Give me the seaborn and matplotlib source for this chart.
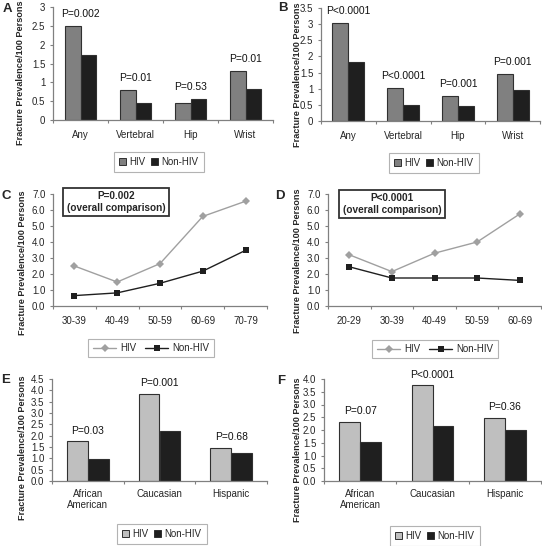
import numpy as np
import pandas as pd
import matplotlib
matplotlib.use("Agg")
import matplotlib.pyplot as plt
from matplotlib.patches import Patch
from matplotlib.lines import Line2D
from matplotlib.ticker import FuncFormatter, FixedLocator
import seaborn as sns

sns.set_theme(style="white")
plt.rcParams['font.family'] = ['Liberation Sans', 'DejaVu Sans']

# ---------------- data ----------------
sites = ["Any", "Vertebral", "Hip", "Wrist"]
a_hiv = [2.50, 0.80, 0.46, 1.30]
a_non = [1.72, 0.44, 0.55, 0.83]
a_p = ["P=0.002", "P=0.01", "P=0.53", "P=0.01"]

b_hiv = [3.05, 1.02, 0.78, 1.46]
b_non = [1.83, 0.50, 0.46, 0.97]
b_p = ["P<0.0001", "P<0.0001", "P=0.001", "P=0.001"]

c_ages = ["30-39", "40-49", "50-59", "60-69", "70-79"]
c_hiv = [2.50, 1.50, 2.65, 5.60, 6.55]
c_non = [0.65, 0.82, 1.42, 2.18, 3.48]
c_box = "P=0.002\n(overall comparison)"

d_ages = ["20-29", "30-39", "40-49", "50-59", "60-69"]
d_hiv = [3.20, 2.15, 3.30, 4.00, 5.75]
d_non = [2.45, 1.75, 1.75, 1.75, 1.60]
d_box = "P<0.0001\n(overall comparison)"

races = ["African\nAmerican", "Caucasian", "Hispanic"]
e_hiv = [1.75, 3.85, 1.45]
e_non = [0.97, 2.22, 1.25]
e_p = ["P=0.03", "P=0.001", "P=0.68"]

f_hiv = [2.33, 3.75, 2.47]
f_non = [1.53, 2.15, 2.00]
f_p = ["P=0.07", "P<0.0001", "P=0.36"]

groups = ["HIV", "Non-HIV"]
ylabel = "Fracture Prevalence/100 Persons"

W, H = 542, 546
fig = plt.figure(figsize=(W / 100, H / 100), dpi=100)

def add_ax(l, r, t, b):
    return fig.add_axes([l / W, 1 - b / H, (r - l) / W, (b - t) / H])

AX_COL = "#808080"
FS = 7.0

def style_axes(ax, ymax, step, fmt, xpad):
    ax.set_ylim(0, ymax)
    ax.set_yticks(np.arange(0, ymax + 1e-9, step))
    ax.yaxis.set_major_formatter(FuncFormatter(lambda v, p: fmt % v))
    for s in ["top", "right"]:
        ax.spines[s].set_visible(False)
    for s in ["left", "bottom"]:
        ax.spines[s].set_color(AX_COL)
        ax.spines[s].set_linewidth(0.9)
    ax.tick_params(axis="y", which="major", direction="out", length=2.5,
                   width=0.8, color=AX_COL, pad=3, labelsize=FS, left=True)
    ax.tick_params(axis="x", which="major", length=0, pad=xpad, labelsize=FS)
    n = len(ax.get_xticks())
    ax.xaxis.set_minor_locator(FixedLocator(np.arange(-0.5, n, 1.0)))
    ax.tick_params(axis="x", which="minor", direction="out", length=2.5,
                   width=0.8, color=AX_COL, bottom=True)
    ax.set_xlim(-0.5, n - 0.5)
    ax.set_xlabel("")
    ax.set_ylabel("")
    ax.grid(False)

def bar_panel(ax, cats, hiv, non, pvals, ymax, step, fmt, hiv_col, xpad):
    df = pd.DataFrame({
        "cat": cats * 2,
        "group": [groups[0]] * len(cats) + [groups[1]] * len(cats),
        "value": hiv + non,
    })
    sns.barplot(data=df, x="cat", y="value", hue="group", order=cats,
                hue_order=groups, palette={"HIV": hiv_col, "Non-HIV": "#1f1f1f"},
                width=0.58, edgecolor="#303030", linewidth=0.8, legend=False,
                ax=ax, saturation=1)
    style_axes(ax, ymax, step, fmt, xpad)
    for i, (h, n_, p) in enumerate(zip(hiv, non, pvals)):
        ax.text(i, max(h, n_) + 0.105 * ymax, p, ha="center", va="center",
                fontsize=7.4, color="#111111")

def bar_legend(cx, cy, hiv_col):
    handles = [Patch(facecolor=hiv_col, edgecolor="#303030", linewidth=0.7),
               Patch(facecolor="#1f1f1f", edgecolor="#303030", linewidth=0.7)]
    leg = fig.legend(handles, groups, loc="center",
                     bbox_to_anchor=(cx / W, 1 - cy / H), ncol=2, fontsize=FS,
                     frameon=True, fancybox=False, handlelength=0.7,
                     handleheight=0.7, handletextpad=0.35, columnspacing=0.6,
                     borderpad=0.5, borderaxespad=0)
    leg.get_frame().set_edgecolor("#a0a0a0")
    leg.get_frame().set_linewidth(0.8)

def line_panel(ax, cats, hiv, non, boxtext, box_xy):
    df = pd.DataFrame({
        "age": cats * 2,
        "group": [groups[0]] * len(cats) + [groups[1]] * len(cats),
        "value": hiv + non,
    })
    sns.lineplot(data=df, x="age", y="value", hue="group", style="group",
                 hue_order=groups, style_order=groups,
                 palette={"HIV": "#a0a0a0", "Non-HIV": "#1f1f1f"},
                 markers={"HIV": "D", "Non-HIV": "s"}, dashes=False,
                 sort=False, legend=False, ax=ax, linewidth=1.0,
                 markersize=4.2, markeredgewidth=0)
    ax.set_xticks(range(len(cats)))
    ax.set_xticklabels(cats)
    style_axes(ax, 7.0, 1.0, "%.1f", 7)
    fig.text(box_xy[0] / W, 1 - box_xy[1] / H, boxtext, ha="center",
             va="center", fontsize=7.2, fontweight="bold", linespacing=1.2,
             bbox=dict(boxstyle="square,pad=0.35", facecolor="white",
                       edgecolor="#333333", linewidth=1.3))

def line_legend(cx, cy):
    handles = [Line2D([], [], color="#a0a0a0", marker="D", markersize=4,
                      markeredgewidth=0, linewidth=1.0),
               Line2D([], [], color="#1f1f1f", marker="s", markersize=4,
                      markeredgewidth=0, linewidth=1.0)]
    leg = fig.legend(handles, groups, loc="center",
                     bbox_to_anchor=(cx / W, 1 - cy / H), ncol=2, fontsize=FS,
                     frameon=True, fancybox=False, handlelength=2.4,
                     handletextpad=0.4, columnspacing=0.9,
                     borderpad=0.45, borderaxespad=0)
    leg.get_frame().set_edgecolor("#a0a0a0")
    leg.get_frame().set_linewidth(0.8)

# Panel A
axA = add_ax(53, 273, 7, 120)
bar_panel(axA, sites, a_hiv, a_non, a_p, 3.0, 0.5, "%g", "#808080", 7)
bar_legend(159, 162, "#808080")
# Panel B
axB = add_ax(321, 540, 8, 121)
bar_panel(axB, sites, b_hiv, b_non, b_p, 3.5, 0.5, "%g", "#808080", 7)
bar_legend(434, 163, "#808080")
# Panel C
axC = add_ax(53, 267, 194, 306)
line_panel(axC, c_ages, c_hiv, c_non, c_box, (116, 202))
line_legend(151, 348)
# Panel D
axD = add_ax(328, 541, 194, 306)
line_panel(axD, d_ages, d_hiv, d_non, d_box, (392, 204))
line_legend(435, 349)
# Panel E
axE = add_ax(52, 267, 379, 481)
bar_panel(axE, races, e_hiv, e_non, e_p, 4.5, 0.5, "%.1f", "#bfbfbf", 5.5)
bar_legend(162, 534, "#bfbfbf")
# Panel F
axF = add_ax(324, 541, 379, 481)
bar_panel(axF, races, f_hiv, f_non, f_p, 4.0, 0.5, "%.1f", "#bfbfbf", 5.5)
bar_legend(435, 536, "#bfbfbf")

# y labels
for (x, y) in [(21, 73), (297, 75), (23, 263), (298, 261), (23, 448), (298, 450)]:
    fig.text(x / W, 1 - y / H, ylabel, rotation=90, ha="center", va="center",
             fontsize=6.6, fontweight="bold")

# panel letters
for letter, (x, y) in zip("ABCDEF", [(7, 9), (283, 8), (6, 196), (280, 196),
                                      (6, 380), (281, 381)]):
    fig.text(x / W, 1 - y / H, letter, ha="center", va="center",
             fontsize=9.5, fontweight="bold")

fig.savefig("out.png", dpi=100, facecolor="white")
